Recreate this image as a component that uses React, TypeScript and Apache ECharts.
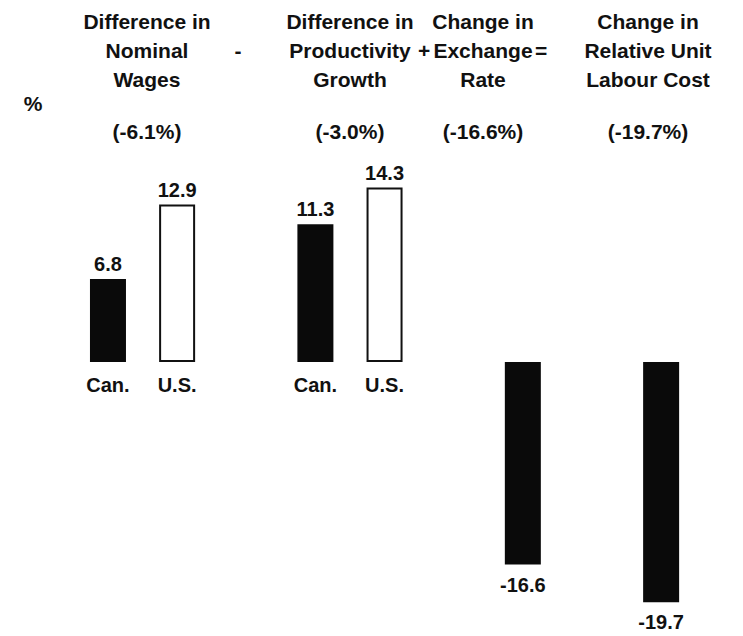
import React, { useEffect, useRef } from "react";
import * as echarts from "echarts";

// Bar slots along the horizontal axis; blank slots are spacers between groups.
const categories = ["Can.", "U.S.", "", "Can.", "U.S.", "", "", "", ""];
// Percentage change per slot (null = no bar in that slot).
const barValues: (number | null)[] = [6.8, 12.9, null, 11.3, 14.3, null, -16.6, null, -19.7];

// Column headings above the bars and the net contribution of each term.
const headingLines = [
  ["Difference in", "Nominal", "Wages"],
  ["Difference in", "Productivity", "Growth"],
  ["Change in", "Exchange", "Rate"],
  ["Change in", "Relative Unit", "Labour Cost"],
];
const headingChanges = ["(-6.1%)", "(-3.0%)", "(-16.6%)", "(-19.7%)"];
const operators = ["-", "+", "="];
const unitLabel = "%";

const FONT = 'Arial, "Liberation Sans", sans-serif';
const FONT_SIZE = 20;
const HEAD_SIZE = 21;

export default function App() {
  const ref = useRef<HTMLDivElement>(null);

  useEffect(() => {
    if (!ref.current) return;
    const chart = echarts.init(ref.current, undefined, { renderer: "svg" });

    const headingX = [147, 350, 483, 648];
    const operatorX = [238, 424, 541];

    const graphics: any[] = [];
    headingLines.forEach((lines, i) => {
      graphics.push({
        type: "text",
        x: headingX[i],
        y: 7,
        style: {
          text: lines.join("\n"),
          font: `bold ${HEAD_SIZE}px ${FONT}`,
          fill: "#111",
          align: "center",
          verticalAlign: "top",
          lineHeight: 29,
        },
      });
      graphics.push({
        type: "text",
        x: headingX[i],
        y: 131,
        style: {
          text: headingChanges[i],
          font: `bold ${HEAD_SIZE}px ${FONT}`,
          fill: "#111",
          align: "center",
          verticalAlign: "middle",
        },
      });
    });
    operators.forEach((op, i) => {
      graphics.push({
        type: "text",
        x: operatorX[i],
        y: 50,
        style: {
          text: op,
          font: `bold ${HEAD_SIZE}px ${FONT}`,
          fill: "#111",
          align: "center",
          verticalAlign: "middle",
        },
      });
    });
    graphics.push({
      type: "text",
      x: 33,
      y: 103,
      style: {
        text: unitLabel,
        font: `bold ${HEAD_SIZE}px ${FONT}`,
        fill: "#111",
        align: "center",
        verticalAlign: "middle",
      },
    });

    const data = barValues.map((v, i) => {
      if (v === null) return "-";
      const outlined = categories[i] === "U.S.";
      return {
        value: v,
        itemStyle: outlined
          ? { color: "#ffffff", borderColor: "#111", borderWidth: 2 }
          : { color: "#0a0a0a", borderColor: "#0a0a0a", borderWidth: 0 },
        label: { position: v >= 0 ? "top" : "bottom", distance: v >= 0 ? 5 : 10 },
      };
    });

    const gridTop = 118;
    const gridBottom = 30;
    const yMin = -20;
    const yMax = 20;
    const plotH = 636 - gridTop - gridBottom;
    // Lift the category axis from the grid's bottom edge up to the zero line.
    const zeroOffset = -plotH * (0 - yMin) / (yMax - yMin);

    chart.setOption({
      animation: false,
      backgroundColor: "#ffffff",
      grid: { left: 73.4, right: 47.3, top: gridTop, bottom: gridBottom },
      xAxis: {
        type: "category",
        data: categories,
        position: "bottom",
        offset: zeroOffset,
        axisLine: { show: false, onZero: false },
        axisTick: { show: false },
        axisLabel: {
          color: "#111",
          fontFamily: FONT,
          fontWeight: "bold",
          fontSize: FONT_SIZE,
          margin: 13,
          interval: 0,
        },
      },
      yAxis: {
        type: "value",
        min: yMin,
        max: yMax,
        show: false,
        splitLine: { show: false },
      },
      series: [
        {
          type: "bar",
          data,
          barWidth: 36,
          label: {
            show: true,
            color: "#111",
            fontFamily: FONT,
            fontWeight: "bold",
            fontSize: FONT_SIZE,
            formatter: (p: any) => String(p.value),
          },
        },
      ],
      graphic: graphics,
    });

    return () => chart.dispose();
  }, []);

  return (
    <div
      ref={ref}
      style={{ position: "absolute", left: 0, top: 0, width: 743, height: 636 }}
    />
  );
}
